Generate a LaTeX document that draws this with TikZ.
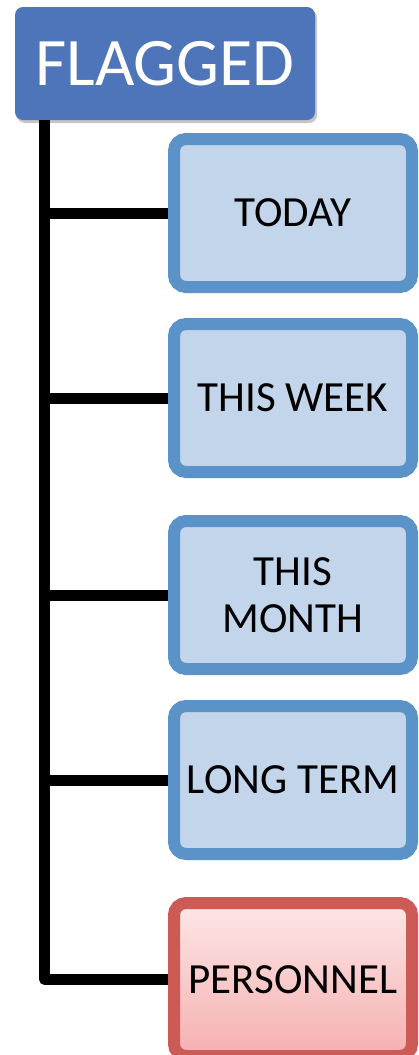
\documentclass[tikz,border=0pt]{standalone}
\usepackage{fontspec}
\setmainfont{Carlito}
\usetikzlibrary{shadows}
\definecolor{flagblue}{HTML}{4E74B9}
\definecolor{catedge}{HTML}{5B93C9}
\definecolor{catfill}{HTML}{C3D5EA}
\definecolor{persedge}{HTML}{CD5B55}
\definecolor{perstop}{HTML}{FDE6E6}
\definecolor{persbot}{HTML}{F5B0B0}
\tikzset{
	flagbox/.style={fill=flagblue, text=white, rounded corners=8pt,
		minimum width=300pt, minimum height=113pt, inner sep=0pt,
		font=\fontsize{68}{68}\selectfont,
		drop shadow={shadow xshift=2pt, shadow yshift=-3pt, opacity=0.45}},
	catbox/.style={draw=catedge, fill=catfill, line width=12pt, rounded corners=12pt,
		minimum width=238pt, minimum height=148pt, inner sep=0pt, align=center,
		font=\fontsize{43}{47}\selectfont},
	redbox/.style={catbox, draw=persedge, top color=perstop, bottom color=persbot},
	trunk/.style={line width=11pt, line join=round}
}
\begin{document}
\begin{tikzpicture}[x=1pt, y=-1pt]
	% page 418 x 1055
	\useasboundingbox (0,0) rectangle (418,1055);
	% root
	\node[flagbox] (flagged) at (165,63.5) {FLAGGED};
	% categories
	\node[catbox] (today) at (293,213) {TODAY};
	\node[catbox] (week) at (293,398) {THIS WEEK};
	\node[catbox] (month) at (293,595) {THIS\\MONTH};
	\node[catbox] (long) at (293,780) {LONG TERM};
	\node[redbox, minimum height=153pt] (personnel) at (293,979.5) {PERSONNEL};
	% tree lines
	\coordinate (top) at ([xshift=30pt]flagged.south west);
	\coordinate (bend) at (top |- personnel.west);
	\draw[trunk] (top) -- (bend) -- (personnel.west);
	\foreach \n in {today,week,month,long}
		\draw[trunk] (top |- \n.west) -- (\n.west);
\end{tikzpicture}
\end{document}
